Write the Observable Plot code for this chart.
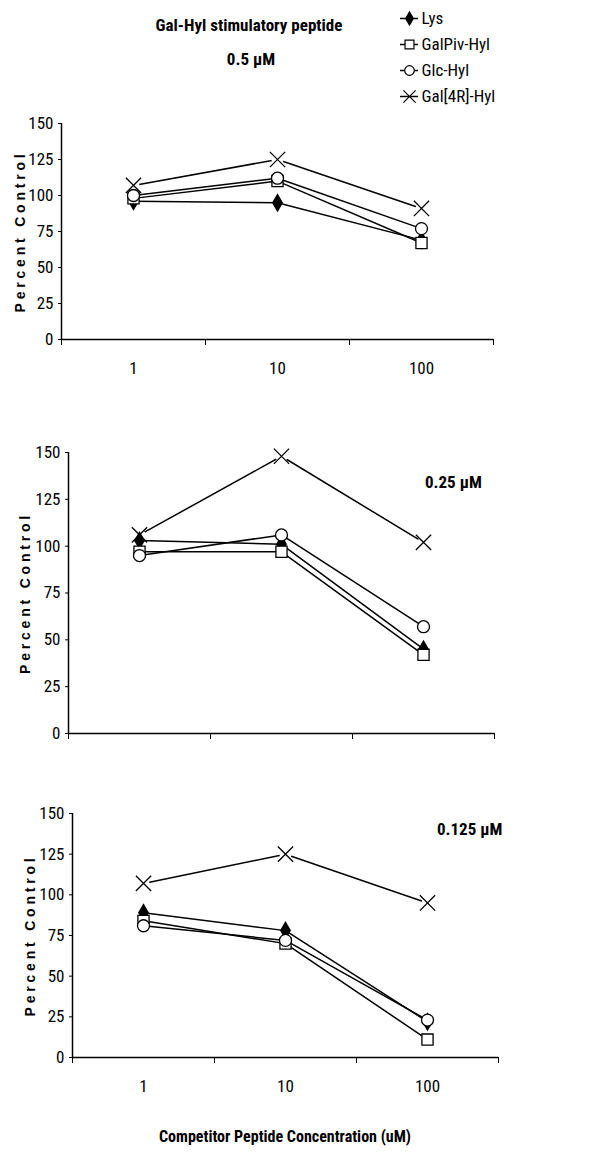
<!DOCTYPE html>
<html><head><meta charset="utf-8">
<script src="https://cdn.jsdelivr.net/npm/d3@7"></script>
<script src="https://cdn.jsdelivr.net/npm/@observablehq/plot@0.6"></script>
<style>
body{margin:0;background:#fff;}
#root{position:relative;width:600px;height:1162px;overflow:hidden;font-family:"Roboto Condensed","Liberation Sans",sans-serif;color:#000;}
.abs{position:absolute;}
.ttl{font-weight:bold;font-size:17px;line-height:20px;white-space:nowrap;}
</style></head><body><div id="root"></div>
<script>
// ---- data ----
const concentrations = [1, 10, 100];
const seriesNames = ["Lys", "GalPiv-Hyl", "Glc-Hyl", "Gal[4R]-Hyl"];
const panelLabels = ["0.5 µM", "0.25 µM", "0.125 µM"];
const yTicks = [0, 25, 50, 75, 100, 125, 150];
const titleText = "Gal-Hyl stimulatory peptide";
const yTitle = "Percent Control";
const xTitle = "Competitor Peptide Concentration (uM)";

// panel 1: 0.5 µM
const p1Lys = [96, 95, 69];
const p1GalPiv = [98, 110, 67];
const p1Glc = [100, 112, 77];
const p1Gal4R = [107, 125, 91];
// panel 2: 0.25 µM
const p2Lys = [103, 101, 45];
const p2GalPiv = [97, 97, 42];
const p2Glc = [95, 106, 57];
const p2Gal4R = [106, 148, 102];
// panel 3: 0.125 µM
const p3Lys = [89, 78, 22];
const p3GalPiv = [84, 70, 11];
const p3Glc = [81, 72, 23];
const p3Gal4R = [107, 125, 95];

// ---- build ----
const root = document.getElementById("root");
const FONT = '"Roboto Condensed","Liberation Sans",sans-serif';
// category edges on the log axis (half a decade either side of each category)
const edges = [...concentrations.map(c => c / Math.sqrt(10)), concentrations[concentrations.length - 1] * Math.sqrt(10)];

const symbolStyle = {
  "Lys": {symbol: "diamond", fill: "black", stroke: "black", r: 5},
  "GalPiv-Hyl": {symbol: "square", fill: "white", stroke: "black", r: 6.3},
  "Glc-Hyl": {symbol: "circle", fill: "white", stroke: "black", r: 6},
  "Gal[4R]-Hyl": {symbol: "times", fill: "none", stroke: "black", r: 7}
};

function rows(seriesValues) {
  const out = [];
  seriesNames.forEach((s, i) => concentrations.forEach((c, j) => out.push({series: s, conc: c, value: seriesValues[i][j]})));
  return out;
}

function place(el, left, top) {
  const w = document.createElement("div");
  w.className = "abs";
  w.style.left = left + "px";
  w.style.top = top + "px";
  w.appendChild(el);
  root.appendChild(w);
  return w;
}

function panel(seriesValues, cfg) {
  const data = rows(seriesValues);
  const marks = [
    Plot.axisY({ticks: yTicks, tickSize: 3, tickPadding: 5, fontSize: 17, label: yTitle, labelAnchor: "center", labelArrow: "none", labelOffset: cfg.labelOffset}),
    Plot.axisX({ticks: edges, tickSize: 6, tickFormat: () => "", label: null}),
  ];
  if (cfg.showX) marks.push(Plot.axisX({ticks: concentrations, tickSize: 0, tickPadding: 22, fontSize: 17, tickFormat: d => String(d), label: null}));
  marks.push(Plot.ruleY([0], {stroke: "black", strokeWidth: 1.5}));
  marks.push(Plot.ruleX([edges[0]], {stroke: "black", strokeWidth: 1.5}));
  for (const s of seriesNames) {
    marks.push(Plot.line(data.filter(d => d.series === s), {x: "conc", y: "value", stroke: "black", strokeWidth: 1.5}));
  }
  // white backdrop behind the X markers (gap in the line)
  marks.push(Plot.dot(data.filter(d => d.series === "Gal[4R]-Hyl"), {x: "conc", y: "value", r: 6, fill: "white", stroke: "none"}));
  for (const s of seriesNames) {
    const st = symbolStyle[s];
    marks.push(Plot.dot(data.filter(d => d.series === s), {x: "conc", y: "value", symbol: st.symbol, r: st.r, fill: st.fill, stroke: st.stroke, strokeWidth: 1.3}));
  }
  const svg = Plot.plot({
    width: 600, height: cfg.height,
    marginTop: cfg.mt, marginBottom: cfg.mb, marginLeft: cfg.ml, marginRight: cfg.mr,
    x: {type: "log", domain: [edges[0], edges[edges.length - 1]]},
    y: {domain: [0, 150]},
    style: {fontFamily: FONT, fontSize: "17px", color: "black", background: "transparent", overflow: "visible"},
    marks
  });
  svg.querySelectorAll("text").forEach(t => {
    if (t.textContent === yTitle) {
      t.setAttribute("font-size", "14");
      t.style.fontSize = "14px";
      t.style.fontFamily = '"Liberation Sans",Arial,sans-serif';
      t.style.fontWeight = "bold";
      t.style.letterSpacing = "3.8px";
    } else {
      t.setAttribute("font-size", "17");
      t.style.fontSize = "17px";
      t.style.fontFamily = FONT;
    }
  });
  place(svg, 0, cfg.top);
}

panel([p1Lys, p1GalPiv, p1Glc, p1Gal4R], {top: 100, height: 290, mt: 23, mb: 51, ml: 61, mr: 107, showX: true, labelOffset: 46});
panel([p2Lys, p2GalPiv, p2Glc, p2Gal4R], {top: 420, height: 330, mt: 32, mb: 17, ml: 68, mr: 106, showX: false, labelOffset: 48});
panel([p3Lys, p3GalPiv, p3Glc, p3Gal4R], {top: 790, height: 320, mt: 23, mb: 53, ml: 72, mr: 102, showX: true, labelOffset: 47});

// legend
const legend = Plot.plot({
  width: 200, height: 115, marginTop: 17, marginBottom: 18, marginLeft: 0, marginRight: 182,
  y: {type: "point", domain: seriesNames, axis: null, padding: 0},
  style: {fontFamily: FONT, fontSize: "17px", color: "black", background: "transparent", overflow: "visible"},
  marks: [
    Plot.tickY(seriesNames, {y: d => d, stroke: "black", strokeWidth: 1.5}),
    ...seriesNames.map(s => {
      const st = symbolStyle[s];
      return Plot.dot([s], {y: d => d, frameAnchor: "middle", symbol: st.symbol, r: st.r * 0.8, fill: st.fill === "none" ? "white" : st.fill, stroke: st.stroke, strokeWidth: 1.2});
    }),
    Plot.text(seriesNames, {y: d => d, text: d => d, frameAnchor: "right", textAnchor: "start", dx: 3, fontSize: 17})
  ]
});
place(legend, 400, 0);

// titles
function addText(txt, style) {
  const d = document.createElement("div");
  d.className = "abs ttl";
  d.textContent = txt;
  Object.assign(d.style, style);
  root.appendChild(d);
}
addText(titleText, {left: "0px", width: "498px", textAlign: "center", top: "15px"});
addText(panelLabels[0], {left: "0px", width: "502px", textAlign: "center", top: "49px"});
addText(panelLabels[1], {left: "425px", top: "472px"});
addText(panelLabels[2], {left: "437px", top: "819px"});
addText(xTitle, {left: "0px", width: "570px", textAlign: "center", top: "1127px", fontSize: "16px"});
</script></body></html>
